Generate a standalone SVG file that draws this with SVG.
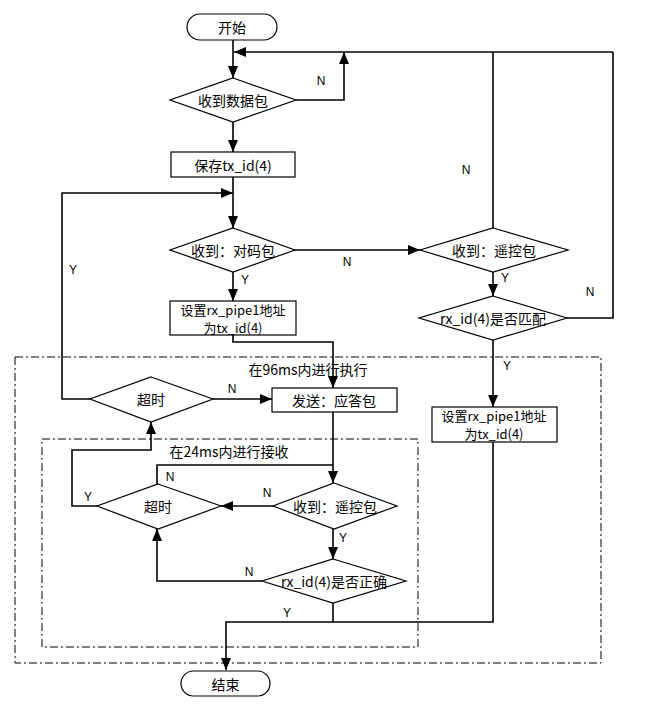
<svg xmlns="http://www.w3.org/2000/svg" width="655" height="715" viewBox="0 0 655 715">
<style>
.s{fill:#fff;stroke:#000;stroke-width:1.2}
.t{font-family:"Noto Sans CJK SC","Liberation Sans",sans-serif;font-size:14px;text-anchor:middle;dominant-baseline:central;fill:#000}
.t2{font-family:"Noto Sans CJK SC","Liberation Sans",sans-serif;font-size:13px;text-anchor:middle;dominant-baseline:central;fill:#000}
.l{font-family:"Liberation Sans",sans-serif;font-size:12px;text-anchor:middle;dominant-baseline:central;fill:#000}
.c{fill:none;stroke:#000;stroke-width:1.6}
.d{fill:none;stroke:#000;stroke-width:1;stroke-dasharray:8 3 2 3}
</style>
<defs>
<marker id="a" viewBox="0 0 12 10" refX="12" refY="5" markerWidth="12" markerHeight="10" markerUnits="userSpaceOnUse" orient="auto">
<path d="M0,0 L12,5 L0,10 z" fill="#000"/>
</marker>
</defs>
<rect width="655" height="715" fill="#fff"/>
<g id="regions">
<rect class="d" x="15" y="357" width="586" height="306"/>
<rect class="d" x="42" y="439" width="376" height="208"/>
<text class="t" x="308" y="369">在96ms内进行执行</text>
<text class="t" x="229" y="451">在24ms内进行接收</text>
</g>
<g id="connectors">
<path class="c" d="M233,40 V78" marker-end="url(#a)"/>
<path class="c" d="M613,52 H234" marker-end="url(#a)"/>
<path class="c" d="M296,100 H344 V52" marker-end="url(#a)"/>
<path class="c" d="M233,122 V152" marker-end="url(#a)"/>
<path class="c" d="M233,177 V228" marker-end="url(#a)"/>
<path class="c" d="M90,399 H62 V193 H233" marker-end="url(#a)"/>
<path class="c" d="M233,272 V301" marker-end="url(#a)"/>
<path class="c" d="M295,250 H420" marker-end="url(#a)"/>
<path class="c" d="M493,228 V52"/>
<path class="c" d="M493,272 V296" marker-end="url(#a)"/>
<path class="c" d="M567,318 H613 V52"/>
<path class="c" d="M493,340 V407" marker-end="url(#a)"/>
<path class="c" d="M233,335 V342 H333 V388" marker-end="url(#a)"/>
<path class="c" d="M213,399 H272" marker-end="url(#a)"/>
<path class="c" d="M333,412 V483" marker-end="url(#a)"/>
<path class="c" d="M157,484 V465 H333"/>
<path class="c" d="M273,506 H221" marker-end="url(#a)"/>
<path class="c" d="M97,506 H72 V450 H151 V422" marker-end="url(#a)"/>
<path class="c" d="M333,529 V559" marker-end="url(#a)"/>
<path class="c" d="M262,581 H157 V529" marker-end="url(#a)"/>
<path class="c" d="M333,603 V622 H226 V670" marker-end="url(#a)"/>
<path class="c" d="M493,442 V622 H333"/>
<text class="l" x="321" y="81">N</text>
<text class="l" x="73" y="270">Y</text>
<text class="l" x="245" y="280">Y</text>
<text class="l" x="347" y="262">N</text>
<text class="l" x="466" y="170">N</text>
<text class="l" x="505" y="278">Y</text>
<text class="l" x="590" y="292">N</text>
<text class="l" x="507" y="366">Y</text>
<text class="l" x="232" y="389">N</text>
<text class="l" x="170" y="477">N</text>
<text class="l" x="88" y="497">Y</text>
<text class="l" x="267" y="493">N</text>
<text class="l" x="343" y="538">Y</text>
<text class="l" x="249" y="572">N</text>
<text class="l" x="287" y="613">Y</text>
</g>
<g id="start"><rect class="s" x="187" y="14" width="90" height="26" rx="13"/><text class="t" x="232" y="27">开始</text></g>
<g id="recvPacket"><polygon class="s" points="233,78 296,100 233,122 170,100"/><text class="t" x="233" y="100">收到数据包</text></g>
<g id="saveTx"><rect class="s" x="171" y="152" width="124" height="25"/><text class="t" x="233" y="164.5">保存tx_id(4)</text></g>
<g id="recvPair"><polygon class="s" points="233,228 295,250 233,272 170,250"/><text class="t" x="233" y="250">收到：对码包</text></g>
<g id="setPipeL"><rect class="s" x="170" y="301" width="126" height="34"/><text class="t2" x="233" y="309">设置rx_pipe1地址</text><text class="t2" x="233" y="327">为tx_id(4)</text></g>
<g id="recvRemote"><polygon class="s" points="493,228 568,250 493,272 420,250"/><text class="t" x="494" y="250">收到：遥控包</text></g>
<g id="matchId"><polygon class="s" points="493,296 567,318 493,340 419,318"/><text class="t" x="493" y="318">rx_id(4)是否匹配</text></g>
<g id="setPipeR"><rect class="s" x="432" y="407" width="125" height="35"/><text class="t2" x="494" y="415">设置rx_pipe1地址</text><text class="t2" x="494" y="433">为tx_id(4)</text></g>
<g id="timeout96"><polygon class="s" points="151,377 213,399 151,422 90,399"/><text class="t" x="151" y="399">超时</text></g>
<g id="sendAck"><rect class="s" x="272" y="388" width="125" height="24"/><text class="t" x="334" y="400">发送：应答包</text></g>
<g id="timeout24"><polygon class="s" points="158,484 221,506 158,529 97,506"/><text class="t" x="158" y="506">超时</text></g>
<g id="recvRemote2"><polygon class="s" points="334,483 397,506 334,529 273,506"/><text class="t" x="335" y="506">收到：遥控包</text></g>
<g id="checkId"><polygon class="s" points="333,559 406,581 333,603 262,581"/><text class="t" x="334" y="581">rx_id(4)是否正确</text></g>
<g id="end"><rect class="s" x="181" y="671" width="89" height="25" rx="12.5"/><text class="t" x="225.5" y="683.5">结束</text></g>
</svg>
